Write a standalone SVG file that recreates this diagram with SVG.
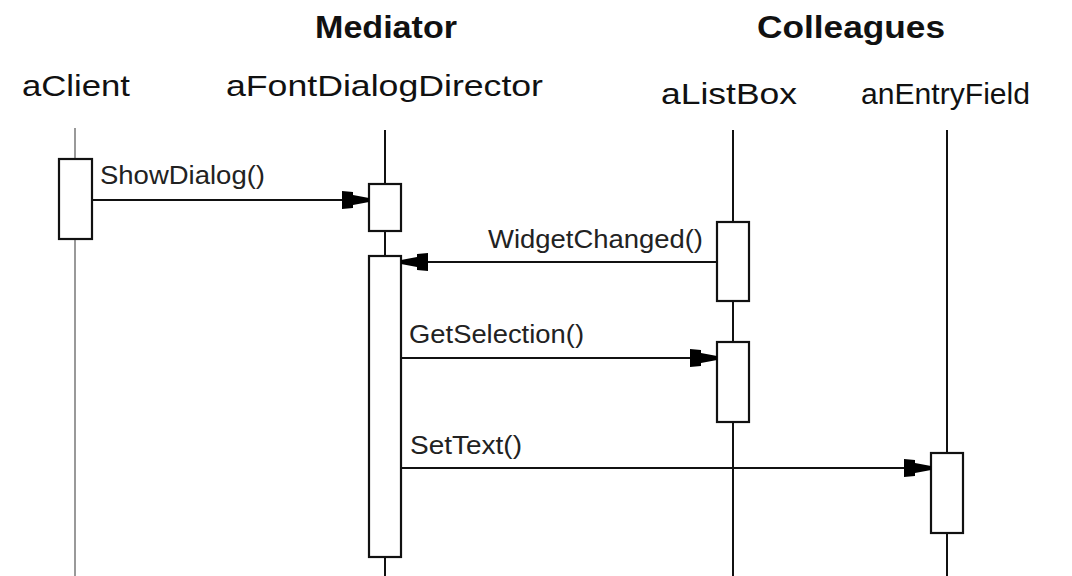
<svg xmlns="http://www.w3.org/2000/svg" width="1072" height="576" viewBox="0 0 1072 576">
<style>
.hdr{font-family:"Liberation Sans",Arial,sans-serif;font-weight:bold;font-size:31px;fill:#111}
.obj{font-family:"Liberation Sans",Arial,sans-serif;font-size:30px;fill:#111}
.msg{font-family:"Liberation Sans",Arial,sans-serif;font-size:25px;fill:#222}
.life{stroke:#111;stroke-width:2;fill:none}
.act{fill:#fff;stroke:#111;stroke-width:2.2}
.call{stroke:#111;stroke-width:2;fill:none;marker-end:url(#ah)}
</style>
<defs>
<marker id="ah" viewBox="-28 -10 29 20" refX="0" refY="0" markerWidth="29" markerHeight="20" markerUnits="userSpaceOnUse" orient="auto">
<path d="M-27,-9 L-16,-8 L-16,-5 L0,-2 L0,2 L-16,5 L-16,8 L-27,9 Z" fill="#000"/>
</marker>
</defs>
<rect width="1072" height="576" fill="#fff"/>
<text class="hdr" x="315" y="38" textLength="142" lengthAdjust="spacingAndGlyphs">Mediator</text>
<text class="hdr" x="757" y="38" textLength="188" lengthAdjust="spacingAndGlyphs">Colleagues</text>
<g id="aClient">
<text class="obj" x="22" y="96" textLength="108" lengthAdjust="spacingAndGlyphs">aClient</text>
<line x1="75" y1="128" x2="75" y2="576" stroke="#999" stroke-width="2"/>
<rect class="act" x="59" y="159" width="33" height="80"/>
</g>
<g id="aFontDialogDirector">
<text class="obj" x="226" y="96" textLength="317" lengthAdjust="spacingAndGlyphs">aFontDialogDirector</text>
<line class="life" x1="385" y1="130" x2="385" y2="576"/>
<rect class="act" x="369" y="184" width="32" height="47"/>
<rect class="act" x="369" y="256" width="32" height="301"/>
</g>
<g id="aListBox">
<text class="obj" x="661" y="104" textLength="136" lengthAdjust="spacingAndGlyphs">aListBox</text>
<line class="life" x1="733" y1="130" x2="733" y2="576"/>
<rect class="act" x="717" y="222" width="32" height="79"/>
<rect class="act" x="717" y="342" width="32" height="80"/>
</g>
<g id="anEntryField">
<text class="obj" x="861" y="104" textLength="169" lengthAdjust="spacingAndGlyphs">anEntryField</text>
<line class="life" x1="947" y1="130" x2="947" y2="576"/>
<rect class="act" x="931" y="453" width="32" height="80"/>
</g>
<g id="connectors">
<line class="call" x1="92" y1="200" x2="369" y2="200"/>
<text class="msg" x="100" y="184" textLength="165" lengthAdjust="spacingAndGlyphs">ShowDialog()</text>
<line class="call" x1="717" y1="262" x2="401" y2="262"/>
<text class="msg" x="488" y="248" textLength="215" lengthAdjust="spacingAndGlyphs">WidgetChanged()</text>
<line class="call" x1="401" y1="358" x2="717" y2="358"/>
<text class="msg" x="409" y="343" textLength="175" lengthAdjust="spacingAndGlyphs">GetSelection()</text>
<line class="call" x1="401" y1="468" x2="931" y2="468"/>
<text class="msg" x="410" y="454" textLength="112" lengthAdjust="spacingAndGlyphs">SetText()</text>
</g>
</svg>
